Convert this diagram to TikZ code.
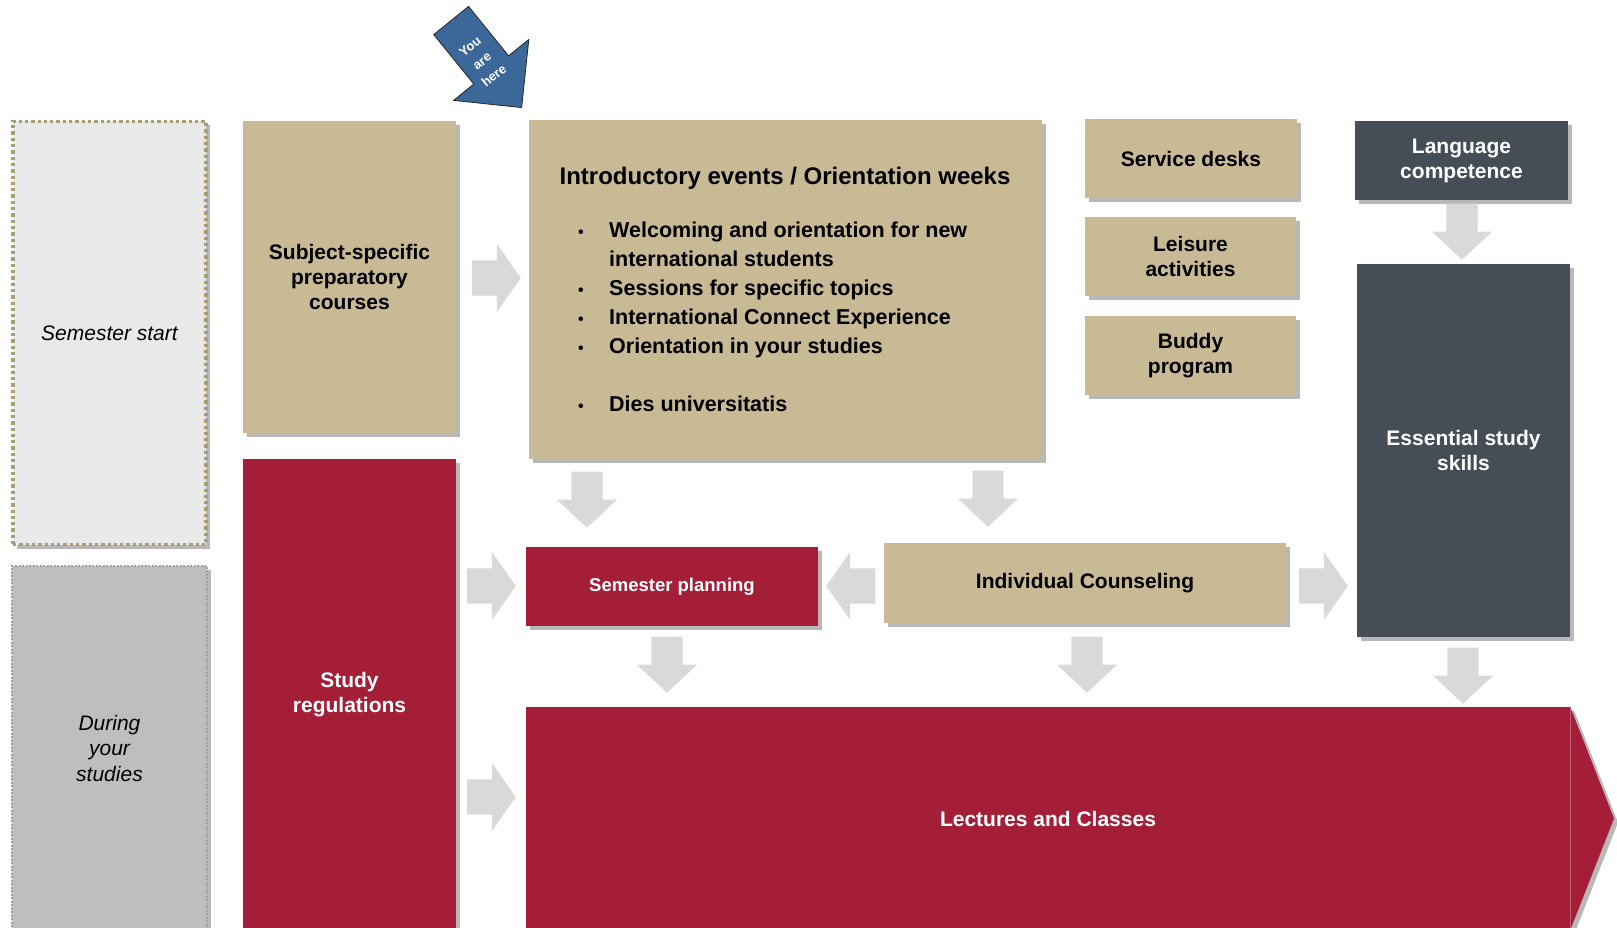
\documentclass[tikz,border=0pt]{standalone}
\usepackage{fontspec}
\setmainfont{Liberation Sans}
\usetikzlibrary{arrows, arrows.meta}
\usetikzlibrary{calc}
\usetikzlibrary{shapes.arrows}
\usetikzlibrary{shadows}

\definecolor{beige}{HTML}{C9BA96}
\definecolor{crimson}{HTML}{A51E37}
\definecolor{slate}{HTML}{454D57}
\definecolor{hereblue}{HTML}{3B6899}
\definecolor{flowgray}{HTML}{D9D9D9}
\definecolor{startgray}{HTML}{E9E9E9}
\definecolor{startdots}{HTML}{A99D72}
\definecolor{studygray}{HTML}{BEBEBE}
\definecolor{studydots}{HTML}{A3A3A3}

\tikzset{
  boxshadow/.style={drop shadow={shadow xshift=4pt, shadow yshift=-4pt, fill=black, opacity=0.28}},
  block/.style={rectangle, inner sep=0pt, align=center, boxshadow},
  beigebox/.style={block, fill=beige, text=black, font=\bfseries\fontsize{21}{25}\selectfont},
  redbox/.style={block, fill=crimson, text=white, font=\bfseries\fontsize{21}{25}\selectfont},
  slatebox/.style={block, fill=slate, text=white, font=\bfseries\fontsize{21}{25}\selectfont},
  phasebox/.style={rectangle, inner sep=0pt, align=center, font=\itshape\fontsize{21}{25.5}\selectfont},
  flowright/.style={single arrow, fill=flowgray, inner xsep=0pt, inner ysep=17.5pt, minimum height=49pt,
    single arrow head extend=16.5pt, single arrow tip angle=110, anchor=tip},
  flowdown/.style={single arrow, fill=flowgray, inner xsep=0pt, inner ysep=15.5pt, minimum height=56pt,
    single arrow head extend=14.5pt, single arrow tip angle=94, rotate=-90, anchor=tip},
}

\begin{document}
\begin{tikzpicture}[x=1pt, y=-1pt]
    \useasboundingbox (0,0) rectangle (1617,928);
    \clip (0,0) rectangle (1617,928);

    % phases on the left
    \node[phasebox, fill=startgray, draw=startdots, line width=3.3pt, dash pattern=on 3.3pt off 3pt,
      minimum width=193pt, minimum height=423pt, boxshadow] (start) at (109.5,333) {Semester start};
    \node[phasebox, fill=studygray, draw=studydots, line width=1.5pt, dash pattern=on 2pt off 1.5pt,
      minimum width=195pt, minimum height=364pt, boxshadow] (during) at (109.5,748) {During\\your\\studies};

    % boxes
    \node[beigebox, minimum width=213pt, minimum height=312pt] (subj) at (349.5,277) {Subject-specific\\preparatory\\courses};
    \node[redbox, minimum width=213pt, minimum height=471pt] (regs) at (349.5,694.5) {Study\\regulations};
    \node[beigebox, minimum width=513pt, minimum height=339pt] (intro) at (785.5,289.5) {};
    \node[beigebox, minimum width=212pt, minimum height=79pt] (desks) at (1191,158.5) {Service desks};
    \node[beigebox, minimum width=211pt, minimum height=79pt] (leisure) at (1190.5,256.5) {Leisure\\activities};
    \node[beigebox, minimum width=211pt, minimum height=79pt] (buddy) at (1190.5,355.5) {Buddy\\program};
    \node[slatebox, minimum width=213pt, minimum height=79pt] (lang) at (1461.5,160.5) {Language\\competence};
    \node[slatebox, minimum width=213pt, minimum height=373pt] (skills) at (1463.5,450.5) {Essential study\\skills};
    \node[redbox, minimum width=292pt, minimum height=79pt, font=\bfseries\fontsize{18.5}{22}\selectfont] (plan) at (672,586.5) {Semester planning};
    \node[beigebox, minimum width=402pt, minimum height=80pt] (couns) at (1085,583) {Individual Counseling};
    \node[redbox, minimum width=1044pt, minimum height=223pt] (lect) at (1048,818.5) {Lectures and Classes};
    \fill[crimson, boxshadow] (lect.north east) -- (1614,818.5) -- (lect.south east) -- cycle;
    \draw[crimson!70!white, line width=0.8pt] (lect.north east) -- (lect.south east);

    % text of the orientation box
    \node[anchor=base, inner sep=0pt, font=\bfseries\fontsize{24}{29}\selectfont] (introhead) at (785,185)
      {Introductory events / Orientation weeks};
    \node[anchor=north west, inner sep=0pt, align=left, font=\bfseries\fontsize{21.5}{29}\selectfont] (introlist) at (578,221.5)
      {\makebox[31pt][l]{\fontsize{16}{16}\selectfont •}Welcoming and orientation for new\\
       \makebox[31pt][l]{}international students\\
       \makebox[31pt][l]{\fontsize{16}{16}\selectfont •}Sessions for specific topics\\
       \makebox[31pt][l]{\fontsize{16}{16}\selectfont •}International Connect Experience\\
       \makebox[31pt][l]{\fontsize{16}{16}\selectfont •}Orientation in your studies\\[29pt]
       \makebox[31pt][l]{\fontsize{16}{16}\selectfont •}Dies universitatis};

    % gray flow arrows
    \node[flowright] (subjintro) at (521,278) {};
    \node[flowdown] (introplan) at (587,528) {};
    \node[flowdown] (introcouns) at (988,527) {};
    \node[flowdown] (langskills) at (1462,260) {};
    \node[flowright] (regsplan) at (516,586) {};
    \node[flowright, rotate=180] (counsplan) at (826,586) {};
    \node[flowright] (counsskills) at (1348,586) {};
    \node[flowdown] (planlect) at (667,693) {};
    \node[flowdown] (counslect) at (1087,693) {};
    \node[flowdown] (skillslect) at (1463,704) {};
    \node[flowright] (regslect) at (516,797) {};

    % you are here
    \node[single arrow, fill=hereblue, draw=black!85, line width=0.8pt, inner xsep=0pt, inner ysep=22pt,
      minimum height=112pt, single arrow head extend=26pt, single arrow tip angle=90, rotate=-51, anchor=tip] (here) at (522,108) {};
    \node[rotate=39, text=white, align=center, inner sep=0pt, font=\bfseries\fontsize{13}{19}\selectfont] (heretext) at (482,61) {You\\are\\here};
\end{tikzpicture}
\end{document}
